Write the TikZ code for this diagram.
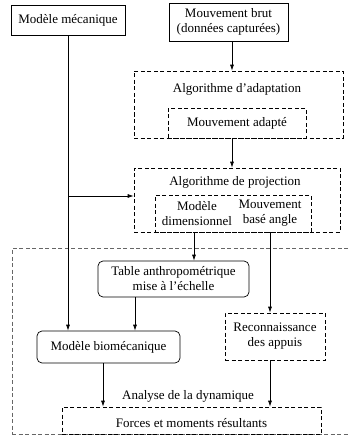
\documentclass[tikz,border=0pt]{standalone}
\usepackage{fontspec}
\setmainfont{Liberation Serif}
\usepackage{tikz}
\usetikzlibrary{positioning, arrows.meta}

\begin{document}
\begin{tikzpicture}[x = 1pt, y = -1pt, line width = 0.7pt,
  font = \fontsize{13}{15}\selectfont,
  >={Latex[length=6pt, width=4pt]},
  box/.style = {draw, inner sep = 0pt, align = center},
  roundbox/.style = {box, rounded corners = 5pt},
  group/.style = {draw, dash pattern = on 4pt off 2.5pt, inner sep = 0pt},
  biggroup/.style = {draw = black!60, line width = 0.6pt, dash pattern = on 4pt off 2.5pt, inner sep = 0pt},
  txt/.style = {inner sep = 0pt, align = center}]
  \clip (0,0) rectangle (348,436);

  % nodes
  \node [box, minimum width = 114, minimum height = 30] (meca) at (68,20) {Modèle mécanique};
  \node [box, minimum width = 119, minimum height = 38] (brut) at (228.5,22) {Mouvement brut\\(données capturées)};

  \node [group, minimum width = 209, minimum height = 67] (adapt) at (238.5,104.5) {};
  \node [txt] (adapt_lbl) at (237,89) {Algorithme d'adaptation};
  \node [group, minimum width = 138, minimum height = 30] (adapted) at (237,123) {Mouvement adapté};

  \node [group, minimum width = 206, minimum height = 64] (proj) at (237,200) {};
  \node [txt] (proj_lbl) at (235,182) {Algorithme de projection};
  \node [group, minimum width = 156, minimum height = 37] (proj_in) at (233,213.5) {};
  \node [txt] (dim) at (197,213.5) {Modèle\\dimensionnel};
  \node [txt] (angle) at (270,213.5) {Mouvement\\basé angle};

  \node [biggroup, minimum width = 348, minimum height = 186] (analyse) at (186,341) {};
  \node [roundbox, minimum width = 151, minimum height = 36] (table) at (173.5,279) {Table anthropométrique\\mise à l'échelle};
  \node [roundbox, minimum width = 143, minimum height = 32] (bio) at (108.5,347) {Modèle biomécanique};
  \node [group, minimum width = 100, minimum height = 47, align = center] (recon) at (275,336.5) {Reconnaissance\\des appuis};
  \node [txt] (analyse_lbl) at (188,396) {Analyse de la dynamique};
  \node [group, minimum width = 259, minimum height = 27] (forces) at (191.5,420.5) {};
  \node [txt] (forces_lbl) at (191.5,423) {Forces et moments résultants};

  % edges
  \draw [->] ([xshift = 3.5pt]brut.south) to ([xshift = 3.5pt]brut.south |- adapt.north);
  \draw [->] ([xshift = -5pt]adapted.south) to ([xshift = -5pt]adapted.south |- proj.north);
  \draw [->] (meca.south) to (meca.south |- bio.north);
  \draw [->] (meca.south |- proj.west) ++(0,-4) to ([yshift = 4pt]proj.west);
  \draw [->] ([xshift = -3pt]dim.center |- proj_in.south) to ([xshift = -3pt]dim.center |- table.north);
  \draw [->] (angle.center |- proj_in.south) to (angle.center |- recon.north);
  \draw [->] ([xshift = -38.5pt]table.south) to ([xshift = -38.5pt]table.south |- bio.north);
  \draw [->] ([xshift = -5.5pt]bio.south) to ([xshift = -5.5pt]bio.south |- forces.north);
  \draw [->] (angle.center |- recon.south) to (angle.center |- forces.north);
\end{tikzpicture}
\end{document}
